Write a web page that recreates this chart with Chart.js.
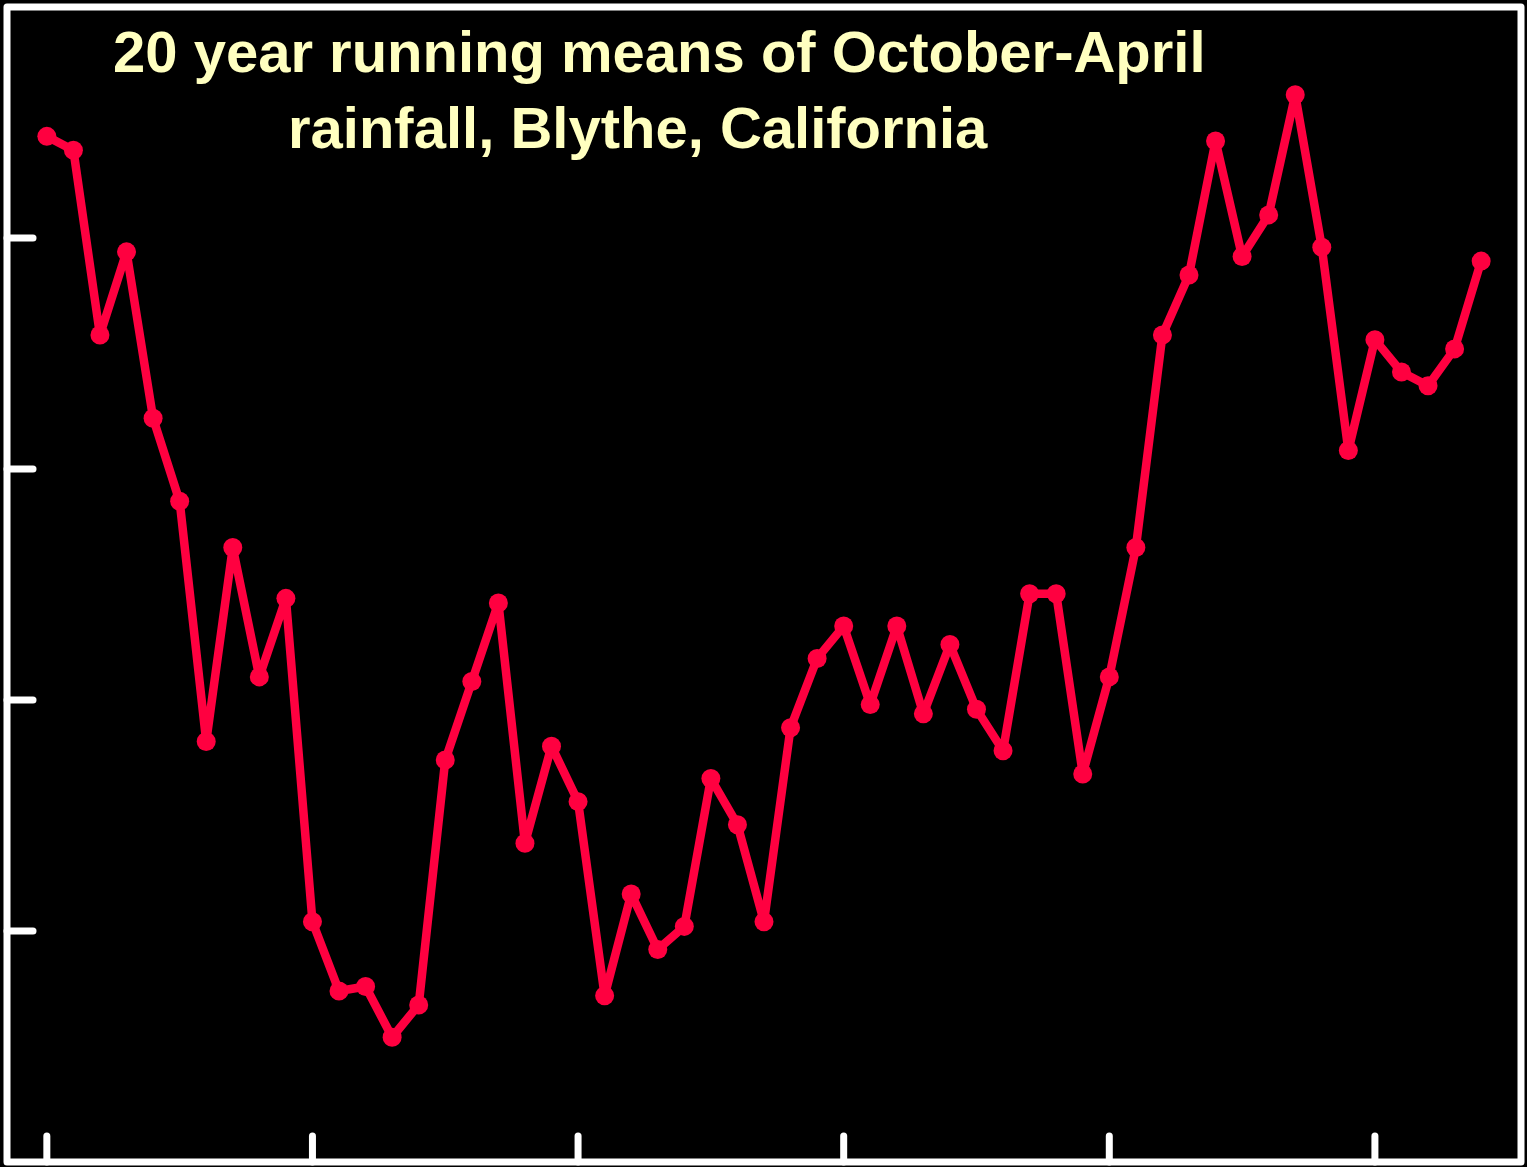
<!DOCTYPE html>
<html lang="en">
<head>
  <meta charset="UTF-8">
  <title>Blythe rainfall running means</title>
  <script src="https://cdn.jsdelivr.net/npm/chart.js"></script>
  <style>
    body { margin: 0; background: #000; overflow: hidden; }
    .wrap { position: relative; width: 1527px; height: 1167px; }
    canvas { display: block; }
    .title {
      position: absolute;
      color: #ffffc0;
      font: bold 58px "Liberation Sans", Arial, sans-serif;
      line-height: 58px;
      white-space: nowrap;
    }
  </style>
</head>
<body>
  <div class="wrap">
    <canvas id="chart" width="1527" height="1167"></canvas>
    <div class="title" style="left:113px; top:23px;">20 year running means of October-April</div>
    <div class="title" style="left:288px; top:99px;">rainfall, Blythe, California</div>
  </div>

  <script>
    // end year of each 20 year window
    const years = [];
    for (let y = 1940; y <= 1994; y++) years.push(y);

    // Oct-Apr rainfall, inches
    const rainfall = [
      3.72, 3.69, 3.29, 3.47, 3.11, 2.93, 2.41, 2.83, 2.55, 2.72,
      2.02, 1.87, 1.88, 1.77, 1.84, 2.37, 2.54, 2.71, 2.19, 2.40,
      2.28, 1.86, 2.08, 1.96, 2.01, 2.33, 2.23, 2.02, 2.44, 2.59,
      2.66, 2.49, 2.66, 2.47, 2.62, 2.48, 2.39, 2.73, 2.73, 2.34,
      2.55, 2.83, 3.29, 3.42, 3.71, 3.46, 3.55, 3.81, 3.48, 3.04,
      3.28, 3.21, 3.18, 3.26, 3.45
    ];

    const xTicks = [1940, 1950, 1960, 1970, 1980, 1990];
    const yTicks = [2.0, 2.5, 3.0, 3.5];

    const frameAndTicks = {
      id: 'frameAndTicks',
      beforeDatasetsDraw(chart) {
        const { ctx, chartArea: a, scales } = chart;
        ctx.save();
        ctx.strokeStyle = '#ffffff';
        ctx.lineCap = 'round';
        ctx.lineWidth = 7;
        yTicks.forEach(v => {
          const y = scales.y.getPixelForValue(v);
          ctx.beginPath();
          ctx.moveTo(a.left, y);
          ctx.lineTo(a.left + 26, y);
          ctx.stroke();
        });
        xTicks.forEach(v => {
          const x = scales.x.getPixelForValue(v);
          ctx.beginPath();
          ctx.moveTo(x, a.bottom);
          ctx.lineTo(x, a.bottom - 26);
          ctx.stroke();
        });
        ctx.lineJoin = 'round';
        ctx.strokeRect(a.left, a.top, a.right - a.left, a.bottom - a.top);
        ctx.restore();
      }
    };

    new Chart(document.getElementById('chart'), {
      type: 'line',
      data: {
        datasets: [{
          data: years.map((yr, i) => ({ x: yr, y: rainfall[i] })),
          borderColor: '#ff0040',
          backgroundColor: '#ff0040',
          borderWidth: 8.5,
          borderJoinStyle: 'round',
          borderCapStyle: 'round',
          pointRadius: 9.5,
          pointHoverRadius: 9.5,
          pointBorderWidth: 0,
          tension: 0
        }]
      },
      options: {
        responsive: false,
        animation: false,
        layout: { autoPadding: false, padding: { left: 7, top: 7, right: 6, bottom: 5 } },
        plugins: { legend: { display: false }, tooltip: { enabled: false } },
        scales: {
          x: { type: 'linear', min: 1938.5, max: 1995.5, display: false },
          y: { min: 1.5, max: 4.0, display: false }
        }
      },
      plugins: [frameAndTicks]
    });
  </script>
</body>
</html>
